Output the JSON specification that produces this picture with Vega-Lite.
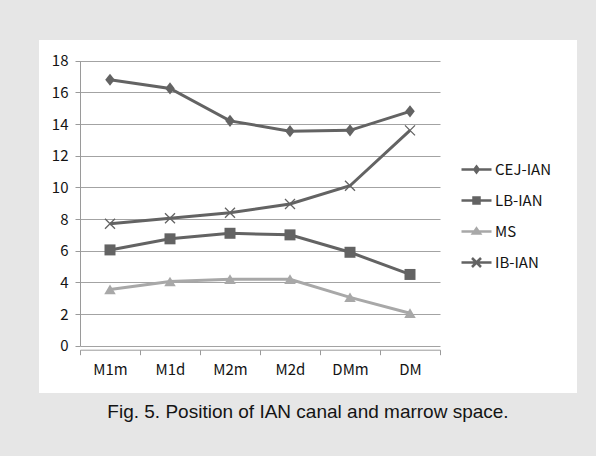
{
  "$schema": "https://vega.github.io/schema/vega-lite/v6.json",
  "width": 596,
  "height": 456,
  "autosize": {"type": "fit", "contains": "padding"},
  "padding": {"left": 39, "top": 40, "right": 19, "bottom": 34},
  "background": "#e6e6e6",
  "config": {
    "view": {"fill": "white", "stroke": null},
    "font": "Noto Sans CJK KR"
  },
  "title": {
    "text": "Fig. 5. Position of IAN canal and marrow space.",
    "orient": "bottom",
    "anchor": "middle",
    "font": "Liberation Sans",
    "fontSize": 19,
    "fontWeight": "normal",
    "color": "#141414",
    "offset": 10
  },
  "data": {
    "values": [
      {"pos": "M1m", "series": "CEJ-IAN", "value": 16.8},
      {"pos": "M1d", "series": "CEJ-IAN", "value": 16.25},
      {"pos": "M2m", "series": "CEJ-IAN", "value": 14.2},
      {"pos": "M2d", "series": "CEJ-IAN", "value": 13.55},
      {"pos": "DMm", "series": "CEJ-IAN", "value": 13.6},
      {"pos": "DM", "series": "CEJ-IAN", "value": 14.8},
      {"pos": "M1m", "series": "LB-IAN", "value": 6.05},
      {"pos": "M1d", "series": "LB-IAN", "value": 6.75},
      {"pos": "M2m", "series": "LB-IAN", "value": 7.1},
      {"pos": "M2d", "series": "LB-IAN", "value": 7.0},
      {"pos": "DMm", "series": "LB-IAN", "value": 5.9},
      {"pos": "DM", "series": "LB-IAN", "value": 4.5},
      {"pos": "M1m", "series": "MS", "value": 3.55},
      {"pos": "M1d", "series": "MS", "value": 4.05},
      {"pos": "M2m", "series": "MS", "value": 4.2},
      {"pos": "M2d", "series": "MS", "value": 4.2},
      {"pos": "DMm", "series": "MS", "value": 3.05},
      {"pos": "DM", "series": "MS", "value": 2.05},
      {"pos": "M1m", "series": "IB-IAN", "value": 7.7},
      {"pos": "M1d", "series": "IB-IAN", "value": 8.05},
      {"pos": "M2m", "series": "IB-IAN", "value": 8.4},
      {"pos": "M2d", "series": "IB-IAN", "value": 8.95},
      {"pos": "DMm", "series": "IB-IAN", "value": 10.1},
      {"pos": "DM", "series": "IB-IAN", "value": 13.6}
    ]
  },
  "encoding": {
    "x": {
      "field": "pos",
      "type": "ordinal",
      "sort": ["M1m", "M1d", "M2m", "M2d", "DMm", "DM"],
      "scale": {"type": "band", "range": [41, 401], "paddingInner": 0, "paddingOuter": 0},
      "axis": {
        "title": null,
        "offset": -43.3,
        "tickBand": "extent",
        "grid": false,
        "labelAngle": 0,
        "domainColor": "#9a9a9a",
        "tickColor": "#9a9a9a",
        "tickSize": 5,
        "labelPadding": 8,
        "labelFontSize": 15,
        "labelColor": "#141414"
      }
    },
    "y": {
      "field": "value",
      "type": "quantitative",
      "scale": {"domain": [0, 18], "range": [305.7, 20.7], "nice": false, "zero": true},
      "axis": {
        "title": null,
        "offset": -41,
        "values": [0, 2, 4, 6, 8, 10, 12, 14, 16, 18],
        "grid": true,
        "gridColor": "#a3a3a3",
        "domainColor": "#9a9a9a",
        "tickColor": "#9a9a9a",
        "tickSize": 5,
        "labelPadding": 7,
        "labelFontSize": 15,
        "labelColor": "#141414"
      }
    },
    "color": {
      "field": "series",
      "type": "nominal",
      "scale": {
        "domain": ["CEJ-IAN", "LB-IAN", "MS", "IB-IAN"],
        "range": ["#636363", "#636363", "#a8a8a8", "#636363"]
      }
    }
  },
  "layer": [
    {
      "mark": {"type": "line", "strokeWidth": 3},
      "encoding": {
        "color": {
          "field": "series",
          "type": "nominal",
          "scale": {
            "domain": ["CEJ-IAN", "LB-IAN", "MS", "IB-IAN"],
            "range": ["#636363", "#636363", "#a8a8a8", "#636363"]
          },
          "legend": {
            "title": null,
            "orient": "none",
            "legendX": 426,
            "legendY": 118,
            "padding": 0,
            "symbolSize": 400,
            "rowPadding": 11,
            "labelOffset": 7,
            "labelFontSize": 15,
            "labelColor": "#141414",
            "encode": {
              "symbols": {
                "update": {
                  "shape": {"signal": "datum.value === 'CEJ-IAN' ? 'M-1.5,0H1.5M0,-0.3L0.22,0L0,0.3L-0.22,0Z' : datum.value === 'LB-IAN' ? 'M-1.5,0H1.5M-0.3,-0.3H0.3V0.3H-0.3Z' : datum.value === 'MS' ? 'M-1.5,0H1.5M0,-0.3L0.35,0.2L-0.35,0.2Z' : 'M-1.5,0H1.5M-0.45,-0.45L0.45,0.45M-0.45,0.45L0.45,-0.45'"},
                  "fill": {"scale": "color", "field": "value"},
                  "stroke": {"scale": "color", "field": "value"},
                  "strokeWidth": {"value": 2.5},
                  "opacity": {"value": 1},
                  "fillOpacity": {"value": 1}
                }
              }
            }
          }
        }
      }
    },
    {
      "transform": [{"filter": "datum.series !== 'IB-IAN'"}],
      "mark": {"type": "point", "filled": true, "opacity": 1, "size": 121},
      "encoding": {
        "shape": {
          "field": "series",
          "type": "nominal",
          "scale": {
            "domain": ["CEJ-IAN", "LB-IAN", "MS"],
            "range": [
              "M0,-1.1L0.87,0L0,1.1L-0.87,0Z",
              "M-1,-1H1V1H-1Z",
              "M0,-0.9L1.05,0.85L-1.05,0.85Z"
            ]
          },
          "legend": null
        }
      }
    },
    {
      "transform": [{"filter": "datum.series === 'IB-IAN'"}],
      "mark": {"type": "point", "filled": false, "opacity": 1, "size": 100, "strokeWidth": 1.3, "shape": "M-1,-1L1,1M-1,1L1,-1"},
      "encoding": {}
    }
  ]
}
